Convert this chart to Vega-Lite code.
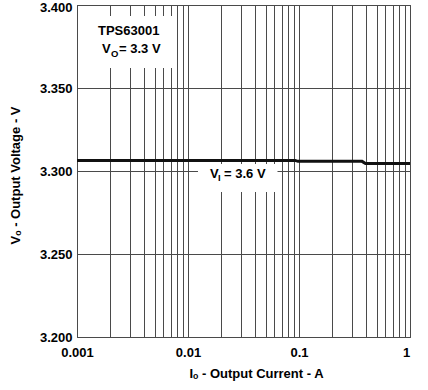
{
  "$schema": "https://vega.github.io/schema/vega-lite/v6.json",
  "width": 333,
  "height": 332,
  "autosize": {"type": "none"},
  "padding": {"left": 77, "top": 5, "right": 18, "bottom": 53},
  "background": "white",
  "config": {
    "view": {"stroke": "#222", "strokeWidth": 1},
    "font": "Liberation Sans"
  },
  "datasets": {
    "curve": [
      {"x": 0.001, "y": 3.3064},
      {"x": 0.092, "y": 3.3064},
      {"x": 0.098, "y": 3.3058},
      {"x": 0.37, "y": 3.3058},
      {"x": 0.397, "y": 3.3045},
      {"x": 1.0, "y": 3.3045}
    ],
    "boxes": [
      {"x": 0.00135, "x2": 0.0078, "y": 3.362, "y2": 3.3934},
      {"x": 0.0123, "x2": 0.064, "y": 3.2873, "y2": 3.3042}
    ],
    "mainText": [
      {"x": 0.001545, "y": 3.3819, "t": "TPS63001"},
      {"x": 0.00168, "y": 3.3709, "t": "V"},
      {"x": 0.00239, "y": 3.3709, "t": "= 3.3 V"},
      {"x": 0.01578, "y": 3.2958, "t": "V"},
      {"x": 0.0211, "y": 3.2958, "t": "= 3.6 V"}
    ],
    "subText": [
      {"x": 0.00202, "y": 3.3687, "t": "O"},
      {"x": 0.01862, "y": 3.294, "t": "I"}
    ]
  },
  "encoding": {
    "x": {
      "field": "x",
      "type": "quantitative",
      "scale": {"type": "log", "domain": [0.001, 1], "nice": false},
      "axis": {
        "title": "Iₒ - Output Current - A",
        "values": [0.001, 0.002, 0.003, 0.004, 0.005, 0.006, 0.007, 0.008, 0.009, 0.01, 0.02, 0.03, 0.04, 0.05, 0.06, 0.07, 0.08, 0.09, 0.1, 0.2, 0.3, 0.4, 0.5, 0.6, 0.7, 0.8, 0.9, 1],
        "labelExpr": "datum.value == 0.001 ? '0.001' : datum.value == 0.01 ? '0.01' : datum.value == 0.1 ? '0.1' : datum.value == 1 ? '1' : ''",
        "grid": true,
        "gridColor": "#4a4a4a",
        "gridWidth": 1,
        "gridOpacity": 1,
        "domain": false,
        "ticks": false,
        "tickSize": 0,
        "labelFont": "Liberation Sans",
        "labelFontWeight": "bold",
        "labelFontSize": 13,
        "labelColor": "#000",
        "labelPadding": 9,
        "labelOffset": {"condition": {"test": "datum.value == 1", "value": -4}, "value": 0},
        "labelFlush": false,
        "labelOverlap": false,
        "titleFont": "Liberation Sans",
        "titleFontWeight": "bold",
        "titleFontSize": 13,
        "titleColor": "#000",
        "titleX": 179,
        "titleY": 40,
        "titleBaseline": "alphabetic"
      }
    },
    "y": {
      "field": "y",
      "type": "quantitative",
      "scale": {"domain": [3.2, 3.4], "nice": false, "zero": false},
      "axis": {
        "title": "Vₒ - Output Voltage - V",
        "values": [3.2, 3.25, 3.3, 3.35, 3.4],
        "format": ".3f",
        "grid": true,
        "gridColor": "#4a4a4a",
        "gridWidth": 1,
        "gridOpacity": 1,
        "domain": false,
        "ticks": false,
        "tickSize": 0,
        "labelFont": "Liberation Sans",
        "labelFontWeight": "bold",
        "labelFontSize": 13,
        "labelColor": "#000",
        "labelPadding": 5,
        "labelOffset": {"condition": {"test": "datum.value > 3.399", "value": 2.5}, "value": 0},
        "labelOverlap": false,
        "titleFont": "Liberation Sans",
        "titleFontWeight": "bold",
        "titleFontSize": 13,
        "titleColor": "#000",
        "titleAngle": 270,
        "titleX": -58,
        "titleY": 170,
        "titleBaseline": "alphabetic"
      }
    }
  },
  "layer": [
    {
      "data": {"name": "boxes"},
      "mark": {"type": "rect", "fill": "white", "strokeWidth": 0},
      "encoding": {
        "x2": {"field": "x2"},
        "y2": {"field": "y2"}
      }
    },
    {
      "data": {"name": "curve"},
      "mark": {"type": "line", "color": "#111", "strokeWidth": 3},
      "encoding": {}
    },
    {
      "data": {"name": "mainText"},
      "mark": {"type": "text", "align": "left", "baseline": "alphabetic", "font": "Liberation Sans", "fontWeight": "bold", "fontSize": 13, "color": "#000"},
      "encoding": {"text": {"field": "t"}}
    },
    {
      "data": {"name": "subText"},
      "mark": {"type": "text", "align": "left", "baseline": "alphabetic", "font": "Liberation Sans", "fontWeight": "bold", "fontSize": 9.5, "color": "#000"},
      "encoding": {"text": {"field": "t"}}
    }
  ]
}
